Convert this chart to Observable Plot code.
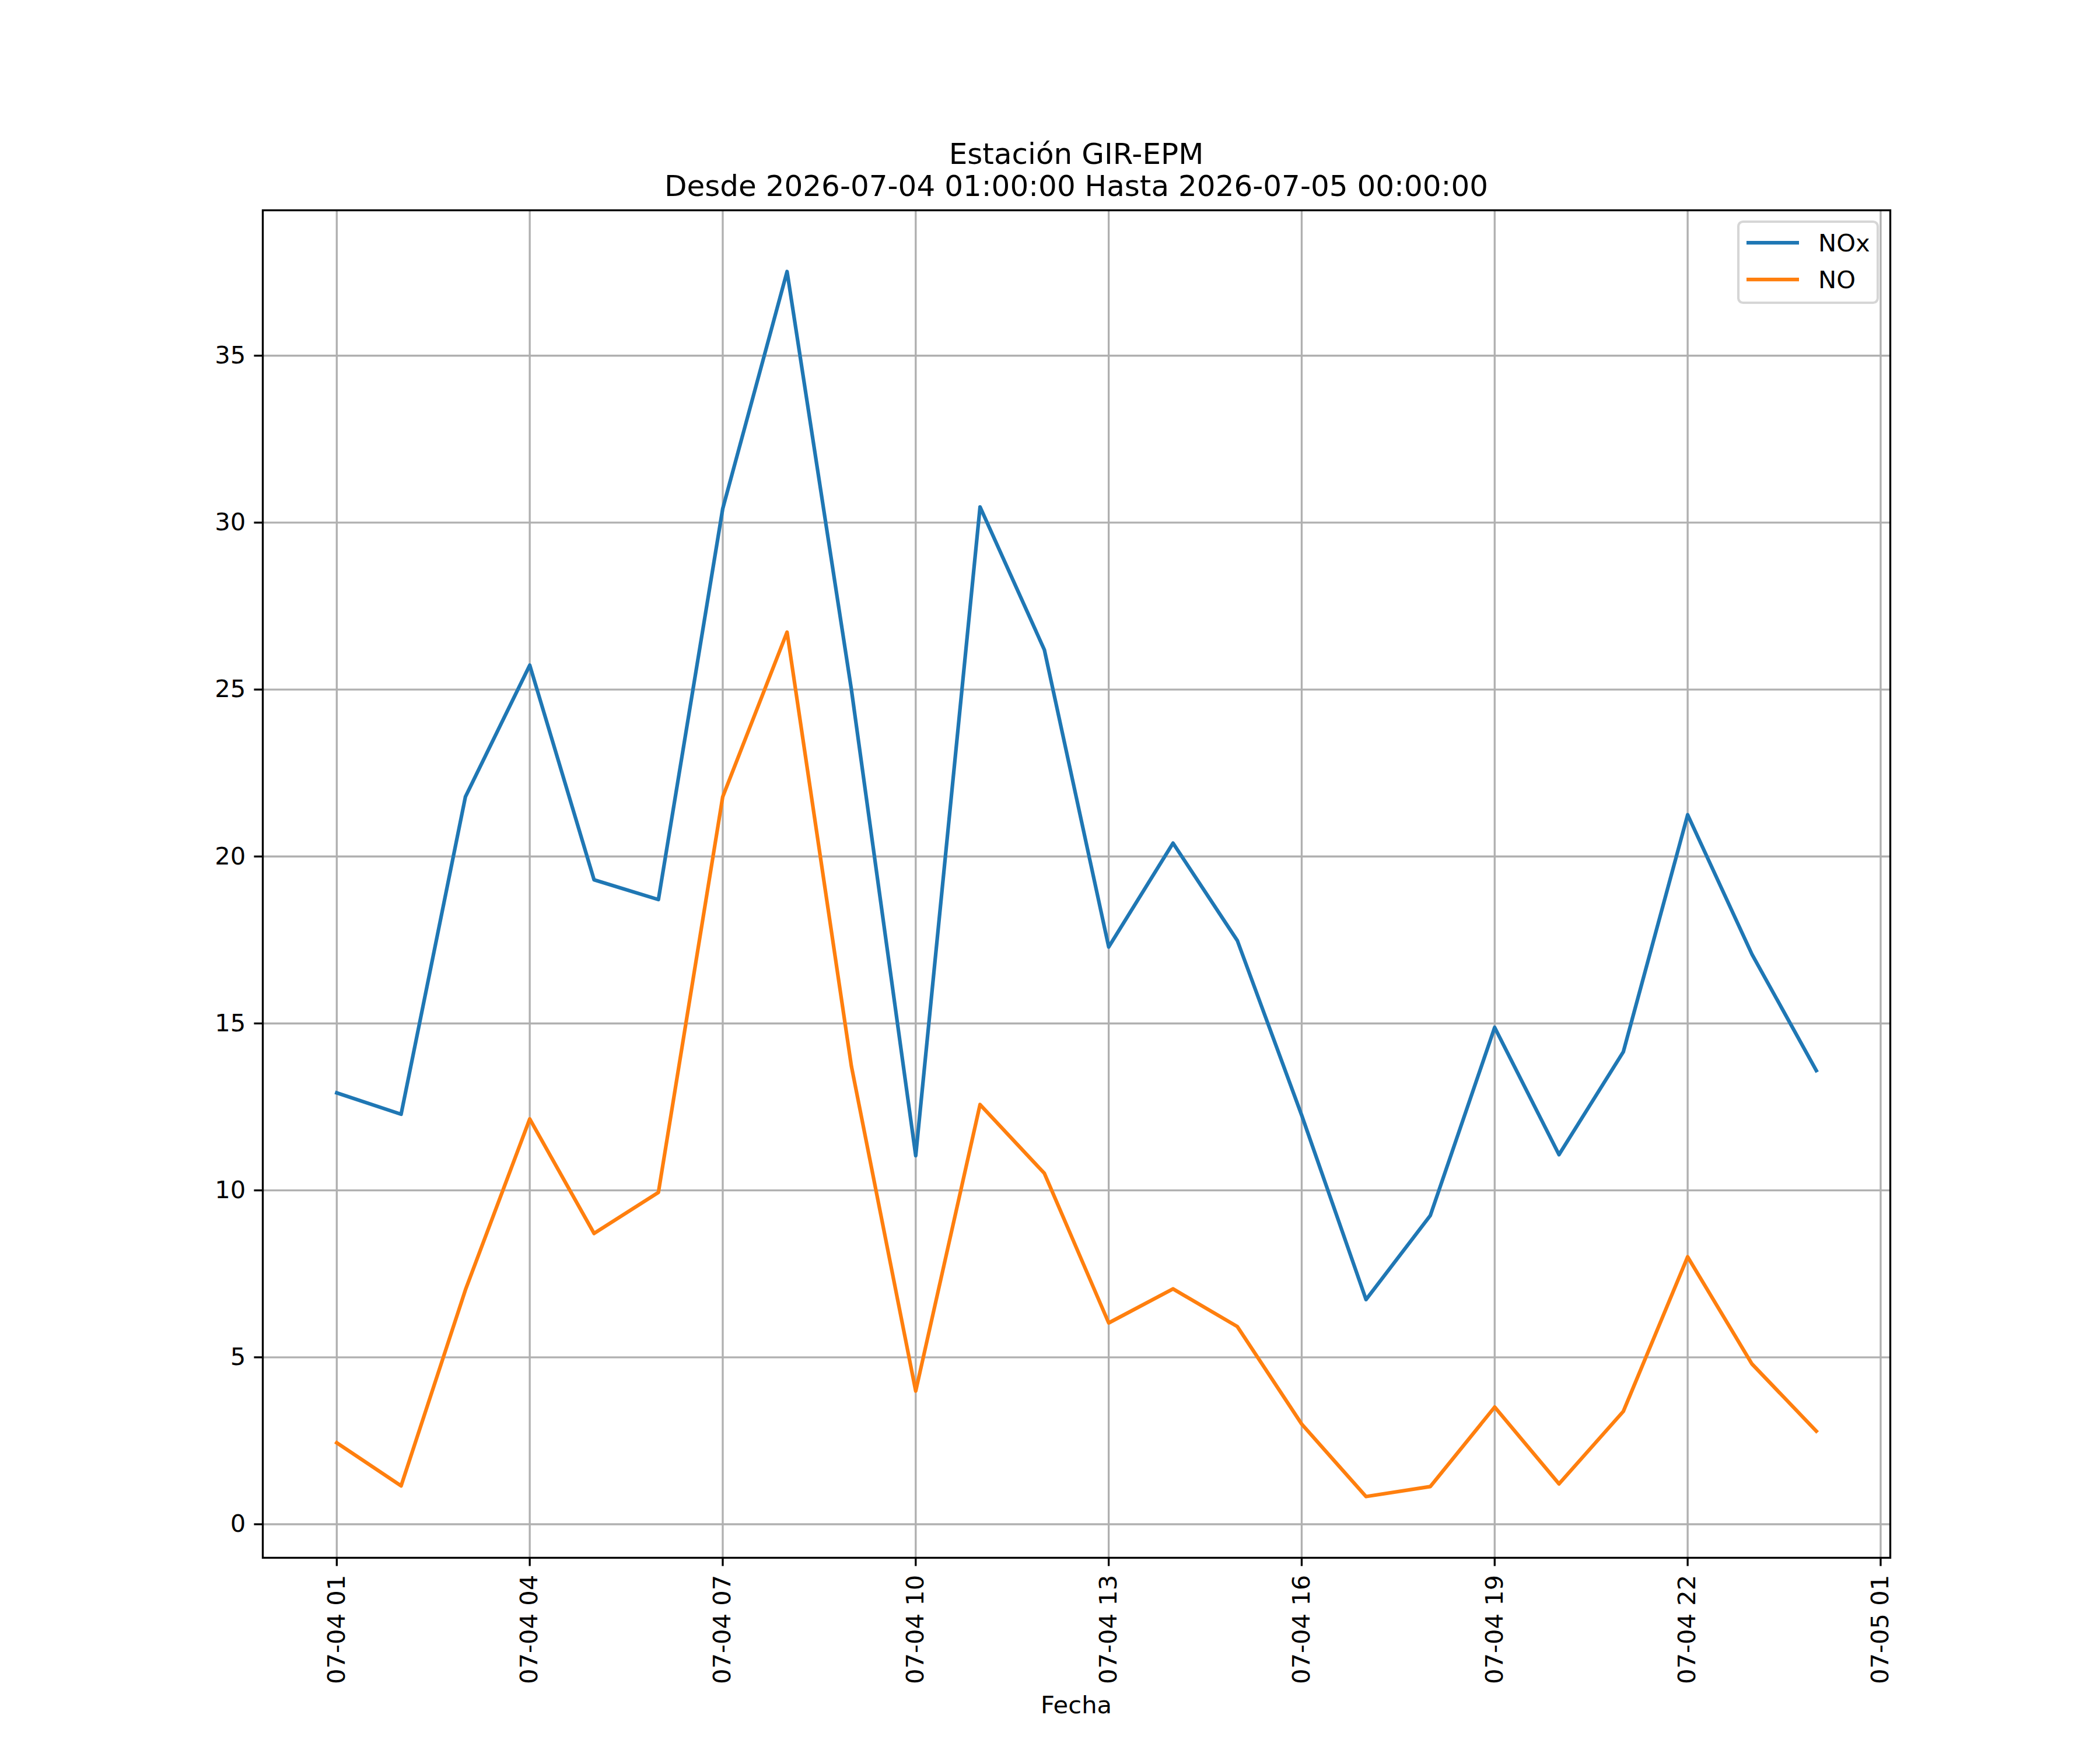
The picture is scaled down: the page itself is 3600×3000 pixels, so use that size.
<!DOCTYPE html>
<html><head><meta charset="utf-8">
<script src="https://cdn.jsdelivr.net/npm/d3@7"></script>
<script src="https://cdn.jsdelivr.net/npm/@observablehq/plot@0.6"></script>
<style>html,body{margin:0;padding:0;background:#fff}</style>
</head><body><div id="chart"></div>
<script>
const times = [
  "2026-07-04T01:00","2026-07-04T02:00","2026-07-04T03:00","2026-07-04T04:00",
  "2026-07-04T05:00","2026-07-04T06:00","2026-07-04T07:00","2026-07-04T08:00",
  "2026-07-04T09:00","2026-07-04T10:00","2026-07-04T11:00","2026-07-04T12:00",
  "2026-07-04T13:00","2026-07-04T14:00","2026-07-04T15:00","2026-07-04T16:00",
  "2026-07-04T17:00","2026-07-04T18:00","2026-07-04T19:00","2026-07-04T20:00",
  "2026-07-04T21:00","2026-07-04T22:00","2026-07-04T23:00","2026-07-05T00:00"
];
const noxValues = [12.92, 12.28, 21.79, 25.73, 19.30, 18.71, 30.42, 37.52, 25.0, 11.04, 30.47, 26.19,
                   17.29, 20.40, 17.48, 12.25, 6.73, 9.25, 14.88, 11.07, 14.15, 21.25, 17.07, 13.59];
const noValues = [2.44, 1.15, 7.02, 12.14, 8.71, 9.94, 21.79, 26.72, 13.72, 3.99, 12.57, 10.51,
                  6.03, 7.05, 5.92, 3.00, 0.83, 1.13, 3.51, 1.21, 3.38, 8.01, 4.80, 2.79];
const seriesNames = ["NOx", "NO"];
const seriesColors = ["#1f77b4", "#ff7f0e"];
const xTickStrings = ["2026-07-04T01:00","2026-07-04T04:00","2026-07-04T07:00","2026-07-04T10:00",
  "2026-07-04T13:00","2026-07-04T16:00","2026-07-04T19:00","2026-07-04T22:00","2026-07-05T01:00"];
const yTicks = [0, 5, 10, 15, 20, 25, 30, 35];
const titleLines = ["Estación GIR-EPM", "Desde 2026-07-04 01:00:00 Hasta 2026-07-05 00:00:00"];
const xLabel = "Fecha";

const parse = s => new Date(s + ":00Z");
const dates = times.map(parse);
const xTicks = xTickStrings.map(parse);
const noxData = dates.map((d, i) => ({date: d, value: noxValues[i]}));
const noData = dates.map((d, i) => ({date: d, value: noValues[i]}));

// matplotlib-like 5% autoscale margins
const [x0, x1] = d3.extent(dates);
const xm = (x1 - x0) * 0.05;
const allVals = noxValues.concat(noValues);
const [y0, y1] = d3.extent(allVals);
const ym = (y1 - y0) * 0.05;

const FONT = "DejaVu Sans";
const FS = 41.67;
const LW = 6.25;
const THIN = 3.33;

const chart = Plot.plot({
  width: 3600,
  height: 3000,
  marginLeft: 450,
  marginRight: 360,
  marginTop: 360,
  marginBottom: 330,
  style: {fontFamily: FONT, fontSize: FS + "px", background: "white", color: "black"},
  x: {type: "utc", domain: [new Date(+x0 - xm), new Date(+x1 + xm)]},
  y: {domain: [y0 - ym, y1 + ym]},
  marks: [
    Plot.gridX(xTicks, {stroke: "#b0b0b0", strokeOpacity: 1, strokeWidth: THIN}),
    Plot.gridY(yTicks, {stroke: "#b0b0b0", strokeOpacity: 1, strokeWidth: THIN}),
    Plot.line(noxData, {x: "date", y: "value", stroke: seriesColors[0], strokeWidth: LW, strokeLinejoin: "round", strokeLinecap: "square"}),
    Plot.line(noData, {x: "date", y: "value", stroke: seriesColors[1], strokeWidth: LW, strokeLinejoin: "round", strokeLinecap: "square"}),
    Plot.axisY(yTicks, {anchor: "left", tickSize: 14.6, tickPadding: 14.6, fontSize: FS, strokeWidth: THIN, label: null, tickFormat: d => String(d)}),
    Plot.axisX(xTicks, {anchor: "bottom", tickSize: 14.6, tickPadding: 14.6, fontSize: FS, strokeWidth: THIN, label: null,
      tickRotate: -90, tickFormat: d3.utcFormat("%m-%d %H")}),
    Plot.frame({stroke: "black", strokeWidth: THIN})
  ]
});
document.getElementById("chart").appendChild(chart);

const svg = d3.select(chart);
// Title
const cx = 450 + (3600 - 450 - 360) / 2;
svg.append("text").attr("x", cx).attr("y", 281).attr("text-anchor", "middle")
  .attr("font-family", FONT).attr("font-size", 50).attr("fill", "black").text(titleLines[0]);
svg.append("text").attr("x", cx).attr("y", 336).attr("text-anchor", "middle")
  .attr("font-family", FONT).attr("font-size", 50).attr("fill", "black").text(titleLines[1]);
// X label
svg.append("text").attr("x", cx).attr("y", 2937).attr("text-anchor", "middle")
  .attr("font-family", FONT).attr("font-size", FS).attr("fill", "black").text(xLabel);
// Legend
const lg = svg.append("g");
lg.append("rect").attr("x", 2980).attr("y", 380).attr("width", 239).attr("height", 139)
  .attr("rx", 8).attr("ry", 8).attr("fill", "white").attr("fill-opacity", 0.8)
  .attr("stroke", "#d6d6d6").attr("stroke-width", 4.17);
seriesNames.forEach((name, i) => {
  const yy = 416 + i * 63;
  lg.append("line").attr("x1", 2994).attr("x2", 3084).attr("y1", yy).attr("y2", yy)
    .attr("stroke", seriesColors[i]).attr("stroke-width", LW);
  lg.append("text").attr("x", 3117).attr("y", yy + 14.5).attr("text-anchor", "start")
    .attr("font-family", FONT).attr("font-size", FS).attr("fill", "black").text(name);
});
</script>
</body></html>
